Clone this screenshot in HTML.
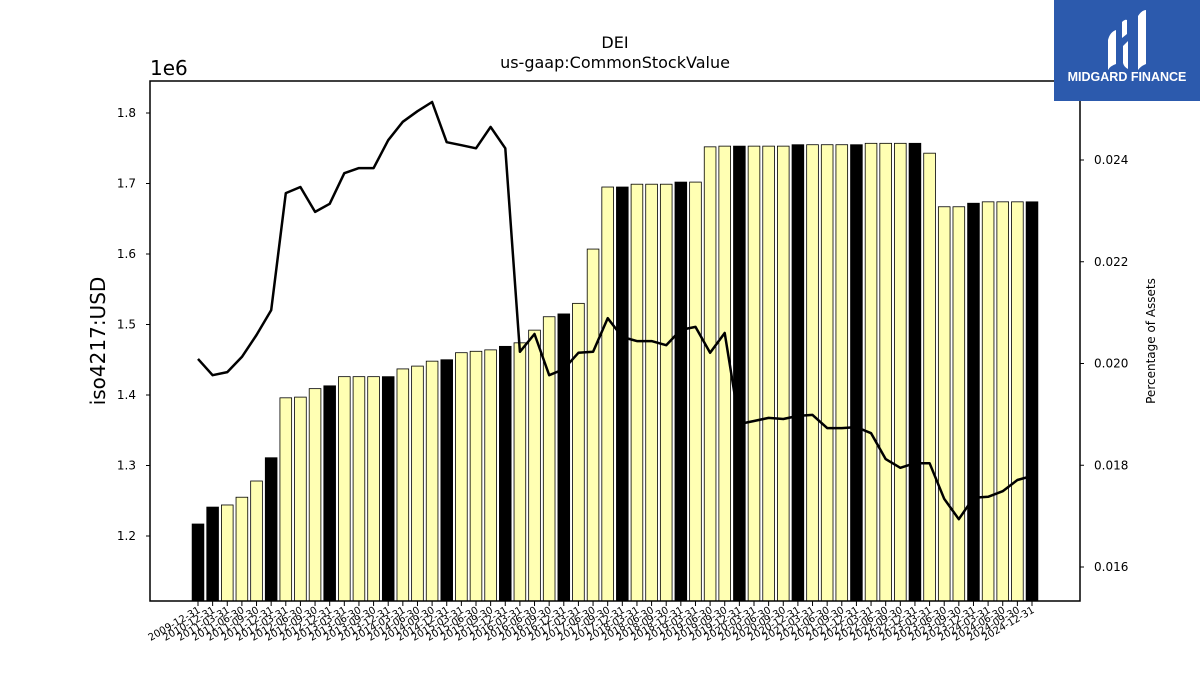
<!DOCTYPE html>
<html><head><meta charset="utf-8"><style>
body{margin:0;background:#fff;}
svg{display:block;font-family:"DejaVu Sans","Liberation Sans",sans-serif;}
</style></head><body>
<svg id="chart" width="1200" height="675" viewBox="0 0 1200 675" xmlns="http://www.w3.org/2000/svg">
<rect width="1200" height="675" fill="#fff"/>
<text x="615" y="48" font-size="16" text-anchor="middle">DEI</text>
<text x="615" y="68" font-size="16" text-anchor="middle">us-gaap:CommonStockValue</text>
<text x="150" y="75" font-size="20">1e6</text>
<text transform="translate(105,341) rotate(-90)" font-size="20" text-anchor="middle">iso4217:USD</text>
<text transform="translate(1155,341) rotate(-90)" font-size="12" text-anchor="middle">Percentage of Assets</text>
<g id="bars"></g>
<g id="line"></g>
<g id="axes"></g>
<rect x="150" y="81" width="930" height="520" fill="none" stroke="#000" stroke-width="1.5"/>
<g>
<rect x="1054" y="0" width="146" height="101" fill="#2c5aad"/>
<path d="M1108 40 q2-8 8-10 v34 q-6 2-8 6 z M1122 22 q3-3 5-2 v14 l-5 4 z M1123 46 l5-5 v28 q-4-2-5-6 z M1138 16 q4-6 8-6 v54 q-5 2-8 6 z" fill="#fff"/>
<text x="1127" y="81" font-size="12.5" font-weight="bold" fill="#fff" text-anchor="middle" font-family="Liberation Sans, sans-serif">MIDGARD FINANCE</text>
</g>
</svg>
<script>
const dates = ["2009-12-31","2010-12-31","2011-03-31","2011-06-30","2011-09-30","2011-12-31","2012-03-31","2012-06-30","2012-09-30","2012-12-31","2013-03-31","2013-06-30","2013-09-30","2013-12-31","2014-03-31","2014-06-30","2014-09-30","2014-12-31","2015-03-31","2015-06-30","2015-09-30","2015-12-31","2016-03-31","2016-06-30","2016-09-30","2016-12-31","2017-03-31","2017-06-30","2017-09-30","2017-12-31","2018-03-31","2018-06-30","2018-09-30","2018-12-31","2019-03-31","2019-06-30","2019-09-30","2019-12-31","2020-03-31","2020-06-30","2020-09-30","2020-12-31","2021-03-31","2021-06-30","2021-09-30","2021-12-31","2022-03-31","2022-06-30","2022-09-30","2022-12-31","2023-03-31","2023-06-30","2023-09-30","2023-12-31","2024-03-31","2024-06-30","2024-09-30","2024-12-31"];
const stockValue = [1.217,1.241,1.244,1.255,1.278,1.311,1.396,1.397,1.409,1.413,1.426,1.426,1.426,1.426,1.437,1.441,1.448,1.450,1.460,1.462,1.464,1.469,1.474,1.492,1.511,1.515,1.530,1.607,1.695,1.695,1.699,1.699,1.699,1.702,1.702,1.752,1.753,1.753,1.753,1.753,1.753,1.755,1.755,1.755,1.755,1.755,1.757,1.757,1.757,1.757,1.743,1.667,1.667,1.672,1.674,1.674,1.674,1.674];
const pctAssets = [0.02009,0.01977,0.01983,0.02013,0.02056,0.02105,0.02335,0.02347,0.02298,0.02314,0.02374,0.02384,0.02384,0.02439,0.02475,0.02496,0.02514,0.02435,0.02429,0.02423,0.02465,0.02423,0.02023,0.02058,0.01977,0.01989,0.02021,0.02023,0.02089,0.02052,0.02044,0.02044,0.02036,0.02066,0.02072,0.02021,0.02060,0.01881,0.01887,0.01893,0.01891,0.01897,0.01899,0.01873,0.01873,0.01875,0.01863,0.01812,0.01795,0.01804,0.01804,0.01734,0.01694,0.01736,0.01738,0.01749,0.01771,0.01779];
const leftTicks = [1.2,1.3,1.4,1.5,1.6,1.7,1.8];
const rightTicks = [0.016,0.018,0.020,0.022,0.024];

const NS="http://www.w3.org/2000/svg";
const X0=198, STEP=(1032-198)/57;
const xPos=i=>X0+STEP*i;
const yL=v=>536-(v-1.2)*705;
const yR=v=>160+(0.024-v)/0.002*101.75;
function mk(tag,attrs,parent){const e=document.createElementNS(NS,tag);for(const k in attrs)e.setAttribute(k,attrs[k]);parent.appendChild(e);return e;}
const bars=document.getElementById('bars'),line=document.getElementById('line'),axes=document.getElementById('axes');
const bw=STEP*0.8;
stockValue.forEach((v,i)=>{
  const annual = dates[i].endsWith("12-31");
  const r=mk('rect',{x:xPos(i)-bw/2,y:yL(v),width:bw,height:601-yL(v),fill:annual?'#000':'#ffffb3',stroke:'#000','stroke-width':0.8},bars);
  
  
});
const pts=pctAssets.map((v,i)=>xPos(i).toFixed(1)+','+yR(v).toFixed(1)).join(' ');
const pl=mk('polyline',{points:pts,fill:'none',stroke:'#000','stroke-width':2.5,'stroke-linejoin':'round'},line);


leftTicks.forEach(t=>{
  const y=yL(t);
  mk('line',{x1:146,x2:150,y1:y,y2:y,stroke:'#000'},axes);
  const tx=mk('text',{x:136,y:y+4,'font-size':12,'text-anchor':'end'},axes);
  tx.textContent=t.toFixed(1);
  
  
});
rightTicks.forEach(t=>{
  const y=yR(t);
  mk('line',{x1:1080,x2:1084,y1:y,y2:y,stroke:'#000'},axes);
  const tx=mk('text',{x:1094,y:y+4,'font-size':12},axes);
  tx.textContent=t.toFixed(3);
  
  
});
dates.forEach((d,i)=>{
  const x=xPos(i);
  mk('line',{x1:x,x2:x,y1:601,y2:606,stroke:'#000'},axes);
  const tx=mk('text',{transform:`translate(${x+3},${612}) rotate(-30)`,'font-size':10,'text-anchor':'end'},axes);
  tx.textContent=d;
  
  
});
</script>
</body></html>
